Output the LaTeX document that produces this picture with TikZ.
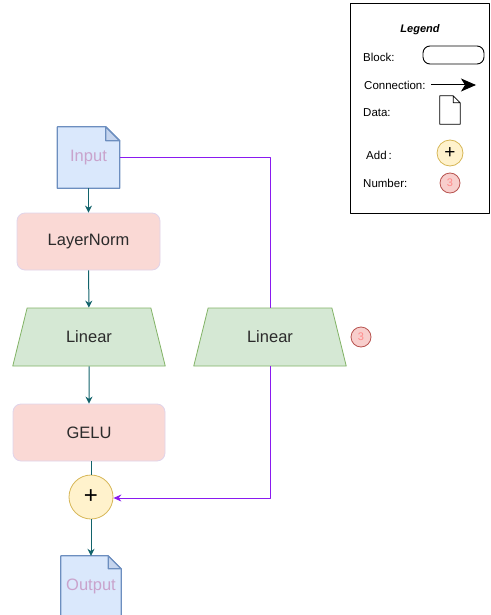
\documentclass[tikz,border=0pt]{standalone}
\usepackage{fontspec}
\setmainfont{Liberation Sans}
\usetikzlibrary{shapes.geometric,arrows.meta}

\definecolor{blockfill}{HTML}{FAD9D5}
\definecolor{blockline}{HTML}{E0D4EA}
\definecolor{linfill}{HTML}{D5E8D4}
\definecolor{linline}{HTML}{82B366}
\definecolor{docfill}{HTML}{DAE8FC}
\definecolor{docfold}{HTML}{C4D4EE}
\definecolor{docline}{HTML}{6C8EBF}
\definecolor{doctxt}{HTML}{C9A3CC}
\definecolor{addfill}{HTML}{FFF2CC}
\definecolor{addline}{HTML}{D6B656}
\definecolor{numfill}{HTML}{F8CECC}
\definecolor{numline}{HTML}{B85450}
\definecolor{numtxt}{HTML}{FF8A8A}
\definecolor{flowc}{HTML}{12636B}
\definecolor{skipc}{HTML}{8A1AF0}
\definecolor{txt}{HTML}{2B2B2B}

% folded page drawn behind a node
\newcommand{\datapage}[3]{%
\fill[#3] (#1.north west) -- ([xshift=-#2]#1.north east) -- ([yshift=-#2]#1.north east)
  -- (#1.south east) -- (#1.south west) -- cycle;
\filldraw[fill=docfold,draw=docline,line width=1.2pt] ([xshift=-#2]#1.north east) -- ([xshift=-#2,yshift=-#2]#1.north east) -- ([yshift=-#2]#1.north east) -- cycle;
\draw[draw=docline,line width=1.2pt] (#1.north west) -- ([xshift=-#2]#1.north east) -- ([yshift=-#2]#1.north east)
  -- (#1.south east) -- (#1.south west) -- cycle;}

\begin{document}
\begin{tikzpicture}[x=1pt,y=-1pt,line join=round,font=\fontsize{16.5}{19}\selectfont,
block/.style={rectangle,rounded corners=8pt,draw=blockline,fill=blockfill,text=txt,
  minimum height=57pt,line width=0.8pt},
linear/.style={trapezium,trapezium left angle=72,trapezium right angle=72,trapezium stretches=true,
  draw=linline,fill=linfill,text=txt,minimum width=153pt,minimum height=58pt,line width=0.8pt},
page/.style={rectangle,minimum width=62pt,minimum height=61pt,text=doctxt,inner sep=0pt},
addop/.style={circle,draw=addline,fill=addfill,line width=0.8pt,inner sep=0pt},
badge/.style={circle,draw=numline,fill=numfill,text=numtxt,line width=0.8pt,inner sep=0pt,
  font=\fontsize{11}{12}\selectfont},
flow/.style={draw=flowc,line width=1pt},
skip/.style={draw=skipc,line width=1pt},
legtxt/.style={anchor=west,inner sep=0pt,font=\fontsize{11.5}{13}\selectfont}]

\useasboundingbox (0,0) rectangle (490,615);

% main path
\node[page] (input) at (88.5,157.5) {Input};
\node[block,minimum width=143pt] (norm) at (88.5,241.5) {LayerNorm};
\node[linear] (lin1) at (89,337) {Linear};
\node[block,minimum width=152pt] (gelu) at (89,432.5) {GELU};
\node[addop,minimum size=44pt] (add) at (91,497) {\fontsize{24}{24}\selectfont +};
\node[page,minimum width=60pt,minimum height=60pt] (output) at (91,586) {Output};

% shortcut
\node[linear] (lin2) at (270,337) {Linear};
\node[badge,minimum size=20pt] (num) at (361,337) {3};

\datapage{input}{14pt}{docfill}
\node[page] at (input) {Input};
\datapage{output}{13pt}{docfill}
\node[page,minimum width=60pt,minimum height=60pt] at (output) {Output};

\draw[flow,-{Stealth[length=7pt,width=7pt]}] (input) -- (norm);
\draw[flow,-{Stealth[length=7pt,width=7pt]}] (norm) -- (lin1);
\draw[flow,-{Stealth[length=7pt,width=7pt]}] (lin1) -- (gelu);
\draw[flow] (gelu.south -| add.north) -- (add.north);
\draw[flow,-{Stealth[length=7pt,width=7pt]}] (add) -- (output);

\draw[skip] (input.east) -| (lin2.north);
\draw[skip,-{Stealth[length=8pt,width=7pt]}] (lin2.south) |- ([yshift=-1pt]add.east);

% legend
\draw[line width=0.8pt] (350,3) rectangle (489,213);
\node[font=\fontsize{11}{13}\selectfont\bfseries\itshape] (legtitle) at (420,30) {Legend};
\node[legtxt] (legblock) at (363,57) {Block:};
\node[rectangle,rounded corners=7pt,draw,line width=0.9pt,minimum width=61pt,minimum height=18pt] (legbox) at (453.5,55) {};
\node[legtxt] (legconn) at (364,85) {Connection:};
\coordinate (arrA) at (431,85);
\coordinate (arrB) at (476,85);
\draw[line width=1pt,-{Stealth[length=15pt,width=13pt,inset=4pt]}] (arrA) -- (arrB);
\node[legtxt] (legdata) at (363,113) {Data:};
\node[page,minimum width=20pt,minimum height=28pt] (legpage) at (450,110) {};
\fill[white] (legpage.north west) -- ([xshift=-7pt]legpage.north east) -- ([yshift=-7pt]legpage.north east)
  -- (legpage.south east) -- (legpage.south west) -- cycle;
\draw[line width=0.8pt] (legpage.north west) -- ([xshift=-7pt]legpage.north east) -- ([yshift=-7pt]legpage.north east)
  -- (legpage.south east) -- (legpage.south west) -- cycle
  ([xshift=-7pt]legpage.north east) -- ([xshift=-7pt,yshift=-7pt]legpage.north east) -- ([yshift=-7pt]legpage.north east);
\node[legtxt] (legadd) at (366,155) {Add\,:};
\node[addop,minimum size=26pt] (legplus) at (450,153) {\fontsize{19}{19}\selectfont +};
\node[legtxt] (legnum) at (363,183) {Number:};
\node[badge,minimum size=20pt] (legbadge) at (450,183) {3};

\end{tikzpicture}
\end{document}
